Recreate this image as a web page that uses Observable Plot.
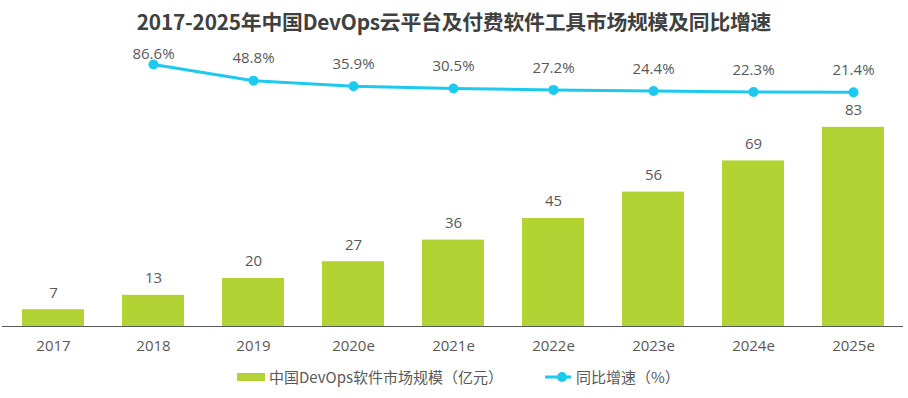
<!DOCTYPE html>
<html><head><meta charset="utf-8">
<script src="https://cdn.jsdelivr.net/npm/d3@7"></script>
<script src="https://cdn.jsdelivr.net/npm/@observablehq/plot@0.6"></script>
<style>
body{margin:0;background:#fff;font-family:"Open Sans","Noto Sans CJK SC",sans-serif;}
#title{height:40px;line-height:42px;text-align:center;font-family:"Noto Sans CJK SC",sans-serif;font-weight:bold;font-size:20.8px;color:#404040;letter-spacing:-0.2px;}
#legend{position:relative;height:43px;font-family:"Noto Sans CJK SC",sans-serif;font-size:15px;color:#595959;}
#legend .item{position:absolute;top:11px;display:flex;align-items:center;}
</style></head>
<body>
<div id="title">2017-2025年中国DevOps云平台及付费软件工具市场规模及同比增速</div>
<div id="chart"></div>
<div id="legend">
  <div class="item" style="left:237px"><span style="display:inline-block;width:28px;height:8px;background:#b3d334;margin-right:4px"></span>中国DevOps软件市场规模（亿元）</div>
  <div class="item" style="left:545px"><svg width="28" height="12" style="margin-right:3px"><line x1="0" y1="6" x2="26" y2="6" stroke="#1ec9f0" stroke-width="3"/><circle cx="17" cy="6" r="5" fill="#1ec9f0"/></svg>同比增速（%）</div>
</div>
<script>
const years = ["2017","2018","2019","2020e","2021e","2022e","2023e","2024e","2025e"];
const marketSize = [7,13,20,27,36,45,56,69,83];
const growthYears = ["2018","2019","2020e","2021e","2022e","2023e","2024e","2025e"];
const growthRate = [86.6,48.8,35.9,30.5,27.2,24.4,22.3,21.4];

const bars = years.map((y,i)=>({year:y, value:marketSize[i]}));
// secondary axis mapped into primary units
const secOffset = 93.75, secScale = 0.178;
const growth = growthYears.map((y,i)=>({year:y, g:growthRate[i], v: secOffset + secScale*growthRate[i]}));

const green = "#b3d334", cyan = "#1ec9f0", textColor = "#595959";
const chart = Plot.plot({
  width: 908, height: 315,
  marginTop: 46, marginBottom: 29, marginLeft: 2, marginRight: 5,
  style: {fontFamily: '"Open Sans","Noto Sans CJK SC",sans-serif', fontSize: "15px", color: textColor, background: "#fff"},
  x: {domain: years, paddingInner: 0.38, paddingOuter: 0.195, label: null, tickSize: 0, tickPadding: 14},
  y: {domain: [0, 100], axis: null},
  marks: [
    Plot.barY(bars, {x: "year", y: "value", fill: green}),
    Plot.ruleY([0], {stroke: "#595959", strokeWidth: 1}),
    Plot.text(bars, {x: "year", y: "value", text: d => String(d.value), dy: -17, fill: textColor, fontSize: 15}),
    Plot.line(growth, {x: "year", y: "v", stroke: cyan, strokeWidth: 3}),
    Plot.dot(growth, {x: "year", y: "v", r: 5, fill: cyan}),
    Plot.text(growth.slice(1), {x: "year", y: "v", text: d => d.g.toFixed(1) + "%", dy: -22, fill: textColor, fontSize: 15}),
    Plot.text(growth.slice(0,1), {x: "year", y: "v", text: d => d.g.toFixed(1) + "%", dy: -10, fill: textColor, fontSize: 15})
  ]
});
document.getElementById("chart").appendChild(chart);
</script>
</body></html>
